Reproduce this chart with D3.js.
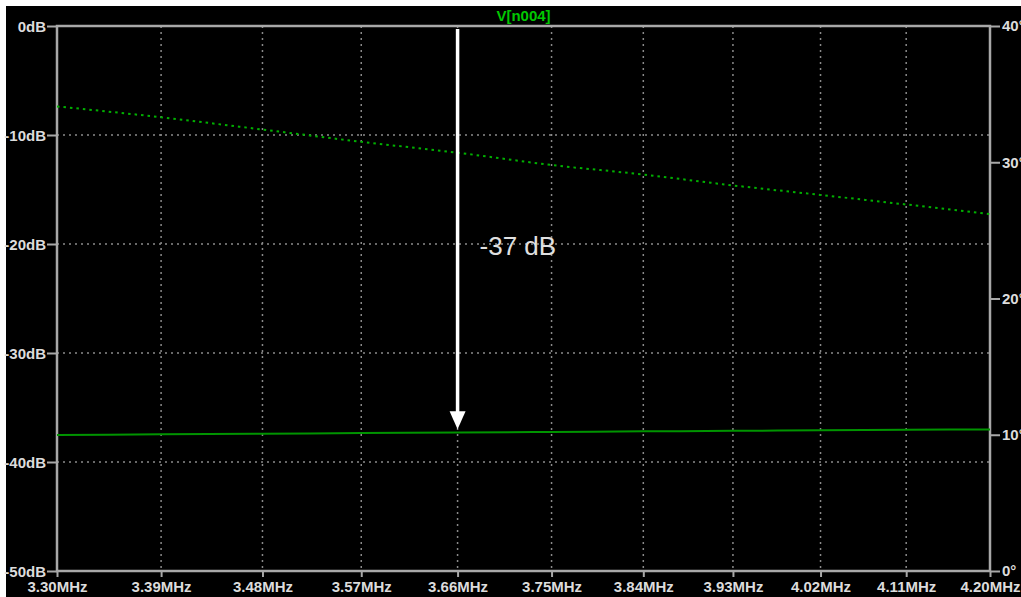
<!DOCTYPE html>
<html>
<head>
<meta charset="utf-8">
<script src="https://cdn.jsdelivr.net/npm/d3@7/dist/d3.min.js"></script>
<style>
  html, body { margin: 0; padding: 0; background: #fff; }
  svg { display: block; }
  text { font-family: "Liberation Sans", Arial, sans-serif; }
</style>
</head>
<body>
<svg id="chart" width="1021" height="597"></svg>
<script>
// Frequency sweep points (MHz) used as the x ticks too
const freqTicks = [3.30, 3.39, 3.48, 3.57, 3.66, 3.75, 3.84, 3.93, 4.02, 4.11, 4.20];
// Magnitude of V[n004] in dB
const magnitudeDb = [-37.52, -37.46, -37.40, -37.35, -37.30, -37.24, -37.19, -37.14, -37.09, -37.05, -37.01];
// Phase of V[n004] in degrees
const phaseDeg = [34.1, 33.3, 32.4, 31.5, 30.7, 29.8, 29.1, 28.3, 27.6, 26.9, 26.2];
const dbTicks = [0, -10, -20, -30, -40, -50];
const degTicks = [0, 10, 20, 30, 40];
const traceName = "V[n004]";
const markerFreq = 3.66;
const markerDb = -37;
const markerText = "-37 dB";

(function () {
const svg = d3.select("#chart");
const W = 1021, H = 597;
const mLeft = 57, mRight = 990, mTop = 26, mBottom = 571;

svg.append("rect").attr("x", 6).attr("y", 6).attr("width", W - 6).attr("height", H - 6).attr("fill", "#000");

const x = d3.scaleLog().domain([3.30, 4.20]).range([mLeft, mRight]);
const yDb = d3.scaleLinear().domain([-50, 0]).range([mBottom, mTop]);
const yDeg = d3.scaleLinear().domain([0, 40]).range([mBottom, mTop]);

const axisColor = "#a8a8a8";
const labelColor = "#dcdcdc";
const gridColor = "#8a8a8a";

// grid
const grid = svg.append("g");
grid.selectAll("line.gx").data(freqTicks.slice(1, -1)).enter().append("line")
  .attr("x1", d => x(d)).attr("x2", d => x(d)).attr("y1", mTop).attr("y2", mBottom)
  .attr("stroke", gridColor).attr("stroke-width", 1.5).attr("stroke-dasharray", "2,4");
grid.selectAll("line.gy").data(dbTicks.slice(1, -1)).enter().append("line")
  .attr("x1", mLeft).attr("x2", mRight).attr("y1", d => yDb(d)).attr("y2", d => yDb(d))
  .attr("stroke", gridColor).attr("stroke-width", 1.5).attr("stroke-dasharray", "2,4");

// axes
const fmtF = d => d.toFixed(2) + "MHz";
const xAxis = d3.axisBottom(x).tickValues(freqTicks).tickFormat(fmtF).tickSize(6).tickPadding(3);
const gx = svg.append("g").attr("transform", `translate(0,${mBottom})`).call(xAxis);
const yAxisL = d3.axisLeft(yDb).tickValues(dbTicks).tickFormat(d => d + "dB").tickSize(10).tickPadding(1);
const gl = svg.append("g").attr("transform", `translate(${mLeft},0)`).call(yAxisL);
const yAxisR = d3.axisRight(yDeg).tickValues(degTicks).tickFormat(d => d + "°").tickSize(10).tickPadding(2);
const gr = svg.append("g").attr("transform", `translate(${mRight},0)`).call(yAxisR);
[gx, gl, gr].forEach(g => {
  g.select(".domain").remove();
  g.selectAll(".tick line").attr("stroke", axisColor).attr("stroke-width", 2);
  g.selectAll(".tick text").attr("fill", labelColor).attr("font-size", 15).attr("font-weight", "bold")
    .attr("font-family", "'Liberation Sans', Arial, sans-serif");
});
gx.selectAll(".tick text").attr("dy", "0.78em");
gl.selectAll(".tick text").attr("dy", "0.36em");
gr.selectAll(".tick text").attr("dy", "0.32em");

// frame
svg.append("rect").attr("x", mLeft).attr("y", mTop).attr("width", mRight - mLeft).attr("height", mBottom - mTop)
  .attr("fill", "none").attr("stroke", axisColor).attr("stroke-width", 2.5);

// traces
const pts = freqTicks.map((f, i) => ({ f, m: magnitudeDb[i], p: phaseDeg[i] }));
svg.append("path").datum(pts)
  .attr("d", d3.line().x(d => x(d.f)).y(d => yDb(d.m)).curve(d3.curveMonotoneX))
  .attr("fill", "none").attr("stroke", "#009400").attr("stroke-width", 2);
svg.append("path").datum(pts)
  .attr("d", d3.line().x(d => x(d.f)).y(d => yDeg(d.p)).curve(d3.curveMonotoneX))
  .attr("fill", "none").attr("stroke", "#00b000").attr("stroke-width", 2).attr("stroke-dasharray", "2.5,4");

// title
svg.append("text").attr("x", (mLeft + mRight) / 2).attr("y", 21).attr("text-anchor", "middle")
  .attr("fill", "#00c800").attr("font-size", 15).attr("font-weight", "bold").text(traceName);

// marker arrow
const ax = x(markerFreq), tipY = yDb(markerDb);
svg.append("line").attr("x1", ax).attr("x2", ax).attr("y1", mTop + 3).attr("y2", tipY - 14)
  .attr("stroke", "#fff").attr("stroke-width", 3.5);
svg.append("path")
  .attr("d", `M${ax - 8},${tipY - 18} L${ax + 8},${tipY - 18} L${ax},${tipY} Z`)
  .attr("fill", "#fff");
svg.append("text").attr("x", ax + 22).attr("y", 255).attr("fill", "#e0e0e0")
  .attr("font-size", 26).text(markerText);
})();
</script>
</body>
</html>
